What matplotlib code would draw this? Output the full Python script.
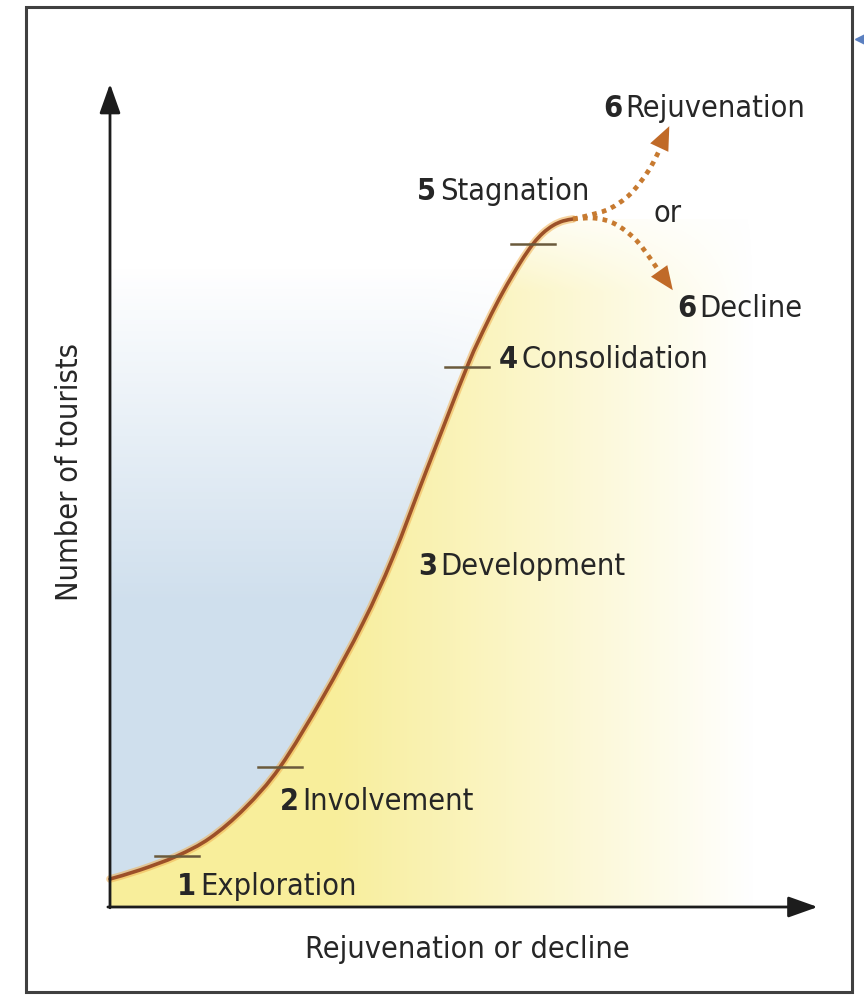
import numpy as np
import matplotlib
matplotlib.use("Agg")
import matplotlib.pyplot as plt
from matplotlib import font_manager
from matplotlib.path import Path
from matplotlib.patches import PathPatch, Rectangle, FancyArrowPatch

# ---------------- data (arbitrary units: time vs. number of tourists) ----------------
curve_time = [0.0, 4.29, 9.57, 14.29, 19.29, 24.29, 30.43, 36.14, 40.43, 45.29,
              51.0, 53.86, 56.14, 58.57, 60.43, 61.86, 63.29, 64.71, 66.14]
curve_tourists = [3.5, 4.63, 6.38, 8.63, 12.38, 17.5, 26.25, 35.5, 43.75, 54.75,
                  67.5, 73.0, 76.88, 80.5, 82.88, 84.25, 85.19, 85.75, 86.0]

rejuv_time = [66.14, 68.6, 71.4, 74.3, 76.9, 78.6, 79.9]
rejuv_tourists = [86.0, 86.5, 87.3, 89.1, 92.0, 94.8, 97.6]
decline_time = [66.14, 69.3, 72.1, 75.0, 77.4, 79.3, 80.4]
decline_tourists = [86.0, 86.1, 85.4, 83.5, 80.8, 78.3, 77.1]

marker_time = [9.57, 24.29, 51.0, 60.43]
marker_tourists = [6.38, 17.5, 67.5, 82.88]

stage_numbers = ["1", "2", "3", "4", "5", "6", "6"]
stage_names = ["Exploration", "Involvement", "Development", "Consolidation",
               "Stagnation", "Rejuvenation", "Decline"]
stage_label_time = [9.6, 24.3, 44.0, 55.6, 43.9, 70.4, 81.0]
stage_label_tourists = [1.6, 12.25, 41.6, 67.5, 88.5, 98.9, 73.9]

x_label = "Rejuvenation or decline"
y_label = "Number of tourists"

# ---------------- fonts ----------------
have_cond = any(("DejaVuSansCondensed" in f.fname.replace("-", "")) or
                (f.name == "DejaVu Sans" and f.stretch == "condensed")
                for f in font_manager.fontManager.ttflist)
FS = 22 if have_cond else 20
FSTRETCH = "condensed" if have_cond else "normal"
plt.rcParams["font.family"] = ["DejaVu Sans"]
TXT = "#262626"


def smooth_path(xs, ys):
    """Catmull-Rom curve through the given points, as cubic Bezier segments."""
    p = np.column_stack([xs, ys]).astype(float)
    ext = np.vstack([p[0], p, p[-1]])
    verts = [tuple(p[0])]
    codes = [Path.MOVETO]
    for i in range(1, len(ext) - 2):
        p0, p1, p2, p3 = ext[i - 1], ext[i], ext[i + 1], ext[i + 2]
        c1 = p1 + (p2 - p0) / 6.0
        c2 = p2 - (p3 - p1) / 6.0
        verts += [tuple(c1), tuple(c2), tuple(p2)]
        codes += [Path.CURVE4] * 3
    return verts, codes


# ---------------- figure ----------------
W, H = 864, 1004
fig = plt.figure(figsize=(W / 100, H / 100), dpi=100)
ax = fig.add_axes([0, 0, 1, 1])
ax.set_xlim(-110 / 7, (W - 110) / 7)
ax.set_ylim(-(H - 908) / 8, 908 / 8)
ax.axis("off")

fig.patches.append(Rectangle((26 / W, (H - 993) / H), 826 / W, 985 / H,
                             transform=fig.transFigure, fill=False,
                             edgecolor="#404040", lw=2.2, zorder=0))
# small blue mark cut by the right edge of the scan
fig.lines.append(plt.Line2D([861 / W], [(H - 40) / H], marker="<", markersize=8,
                            color="#5a7fc0", transform=fig.transFigure))

cv, cc = smooth_path(curve_time, curve_tourists)

# ---------------- gradient backgrounds ----------------
gx = np.linspace(0, 101, 400)
gy = np.linspace(0, 103, 400)
GX, GY = np.meshgrid(gx, gy)

blue = np.zeros((len(gy), len(gx), 4))
blue[..., 0], blue[..., 1], blue[..., 2] = 0.815, 0.875, 0.93
blue[..., 3] = np.clip((80 - GY) / 42, 0, 1) * np.clip((85 - GX) / 40, 0.55, 1)
im_b = ax.imshow(blue, extent=[0, 101, 0, 103], origin="lower", zorder=1,
                 aspect="auto", interpolation="bilinear")
bv = cv + [(curve_time[-1], 103), (0, 103), cv[0]]
bc = cc + [Path.LINETO, Path.LINETO, Path.CLOSEPOLY]
clip_b = PathPatch(Path(bv, bc), transform=ax.transData, facecolor="none", edgecolor="none")
ax.add_patch(clip_b)
im_b.set_clip_path(clip_b)

yel = np.zeros((len(gy), len(gx), 4))
yel[..., 0], yel[..., 1], yel[..., 2] = 0.975, 0.935, 0.61
yel[..., 3] = np.clip((92 - GX) / 60, 0, 1) * np.clip((89 - GY) / 12, 0, 1)
im_y = ax.imshow(yel, extent=[0, 101, 0, 103], origin="lower", zorder=1,
                 aspect="auto", interpolation="bilinear")
yv = [(0, 0)] + [cv[0]] + cv[1:] + [(101, curve_tourists[-1]), (101, 0), (0, 0)]
yc = [Path.MOVETO, Path.LINETO] + cc[1:] + [Path.LINETO, Path.LINETO, Path.CLOSEPOLY]
clip_y = PathPatch(Path(yv, yc), transform=ax.transData, facecolor="none", edgecolor="none")
ax.add_patch(clip_y)
im_y.set_clip_path(clip_y)

# ---------------- axes arrows ----------------
ax.add_patch(FancyArrowPatch((0, -0.1), (0, 102.9), arrowstyle="-|>,head_length=0.9,head_width=0.32",
                             mutation_scale=20, color="#1c1c1c", lw=2, zorder=5, shrinkA=0, shrinkB=0))
ax.add_patch(FancyArrowPatch((-0.3, 0), (101.1, 0), arrowstyle="-|>,head_length=0.9,head_width=0.32",
                             mutation_scale=20, color="#1c1c1c", lw=2, zorder=5, shrinkA=0, shrinkB=0))

# ---------------- curve ----------------
ax.add_patch(PathPatch(Path(cv, cc), facecolor="none", edgecolor="#f0b050", lw=5.5,
                       alpha=0.55, zorder=3, capstyle="round"))
ax.add_patch(PathPatch(Path(cv, cc), facecolor="none", edgecolor="#9c5028", lw=2.6,
                       zorder=4, capstyle="round"))

for t, v in zip(marker_time, marker_tourists):
    ax.plot([t - 3.2, t + 3.2], [v, v], color="#6a5a3c", lw=1.8, zorder=4)

for bx, by in [(rejuv_time, rejuv_tourists), (decline_time, decline_tourists)]:
    v, c = smooth_path(bx[:-1], by[:-1])
    ax.add_patch(PathPatch(Path(v, c), facecolor="none", edgecolor="#c77a30", lw=3.4,
                           linestyle=(0, (1.0, 1.1)), zorder=4))
    ax.add_patch(FancyArrowPatch((bx[-3], by[-3]), (bx[-1], by[-1]),
                                 arrowstyle="-|>,head_length=0.85,head_width=0.36",
                                 mutation_scale=20, color="#c06a28", lw=0, zorder=5,
                                 shrinkA=0, shrinkB=0))

# ---------------- labels ----------------
for num, name, tx, ty in zip(stage_numbers, stage_names, stage_label_time, stage_label_tourists):
    t1 = ax.text(tx, ty, num, fontsize=FS, fontweight="bold", fontstretch=FSTRETCH,
                 color=TXT, ha="left", va="baseline", zorder=6)
    ax.annotate(name, xy=(1, 0), xycoords=t1, xytext=(2.5, 0), textcoords="offset points",
                fontsize=FS, fontstretch=FSTRETCH, color=TXT, ha="left", va="bottom", zorder=6)

ax.text(77.6, 85.75, "or", fontsize=FS, fontstretch=FSTRETCH, color=TXT,
        ha="left", va="baseline", zorder=6)
ax.text(51.1, -6.25, x_label, fontsize=FS, fontstretch=FSTRETCH, color=TXT,
        ha="center", va="baseline")
ax.text(-5.8, 54.5, y_label, fontsize=FS, fontstretch=FSTRETCH, color=TXT,
        ha="center", va="center", rotation=90)

fig.savefig("out.png", dpi=100, facecolor="white")
